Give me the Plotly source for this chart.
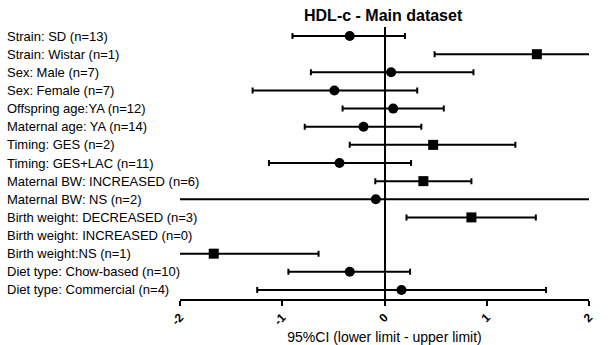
import plotly.graph_objects as go

labels = [
    "Strain: SD (n=13)",
    "Strain: Wistar (n=1)",
    "Sex: Male (n=7)",
    "Sex: Female (n=7)",
    "Offspring age:YA (n=12)",
    "Maternal age: YA (n=14)",
    "Timing: GES (n=2)",
    "Timing: GES+LAC (n=11)",
    "Maternal BW: INCREASED (n=6)",
    "Maternal BW: NS (n=2)",
    "Birth weight: DECREASED (n=3)",
    "Birth weight: INCREASED (n=0)",
    "Birth weight:NS (n=1)",
    "Diet type: Chow-based (n=10)",
    "Diet type: Commercial (n=4)",
]
estimate = [-0.34, 1.49, 0.065, -0.49, 0.085, -0.205, 0.476, -0.44, 0.38, -0.085, 0.85, None, -1.67, -0.34, 0.166]
lower = [-0.90, 0.49, -0.72, -1.29, -0.41, -0.78, -0.34, -1.13, -0.09, -2.4, 0.215, None, -2.69, -0.94, -1.245]
upper = [0.20, 2.49, 0.87, 0.32, 0.58, 0.36, 1.28, 0.26, 0.85, 2.2, 1.48, None, -0.645, 0.25, 1.58]
symbols = ["circle", "square", "circle", "circle", "circle", "circle", "square", "circle",
           "square", "circle", "square", "circle", "square", "circle", "circle"]
xticks = [-2, -1, 0, 1, 2]

rows = list(range(1, len(labels) + 1))
plus = [None if e is None else u - e for e, u in zip(estimate, upper)]
minus = [None if e is None else e - l for e, l in zip(estimate, lower)]

fig = go.Figure()
fig.add_trace(go.Scatter(
    x=estimate, y=rows, mode="markers",
    marker=dict(symbol=symbols, size=10, color="black"),
    error_x=dict(type="data", symmetric=False, array=plus, arrayminus=minus,
                 color="black", thickness=2, width=3),
    showlegend=False, cliponaxis=True,
))

for r, lab in zip(rows, labels):
    fig.add_annotation(x=-0.428, xref="paper", y=r, yref="y", text=lab,
                       showarrow=False, xanchor="left", yanchor="middle",
                       font=dict(family="Liberation Sans, Arial", size=13, color="black"))

fig.update_layout(
    width=613, height=345,
    margin=dict(l=180, r=24, t=27, b=46),
    paper_bgcolor="white", plot_bgcolor="white",
    font=dict(family="Liberation Sans, Arial", size=12, color="black"),
    title=dict(text="<b>HDL-c - Main dataset</b>", x=0.625, xanchor="center",
               y=0.955, yanchor="middle", font=dict(size=16, color="black")),
)
fig.update_xaxes(range=[-2, 2], tickvals=xticks, automargin=False,
                 ticktext=["<b>%d</b>" % v for v in xticks],
                 tickangle=-45, ticks="outside", ticklen=5, tickwidth=1.5, tickcolor="black",
                 showline=True, linecolor="black", linewidth=1.5, showgrid=False,
                 zeroline=True, zerolinecolor="black", zerolinewidth=2,
                 title=dict(text="95%CI (lower limit - upper limit)", standoff=9,
                            font=dict(size=14)),
                 tickfont=dict(size=12))
fig.update_yaxes(range=[15.5, 0.5], showticklabels=False, showgrid=False,
                 zeroline=False, showline=False, ticks="", automargin=False)

fig.write_html("out.html")
